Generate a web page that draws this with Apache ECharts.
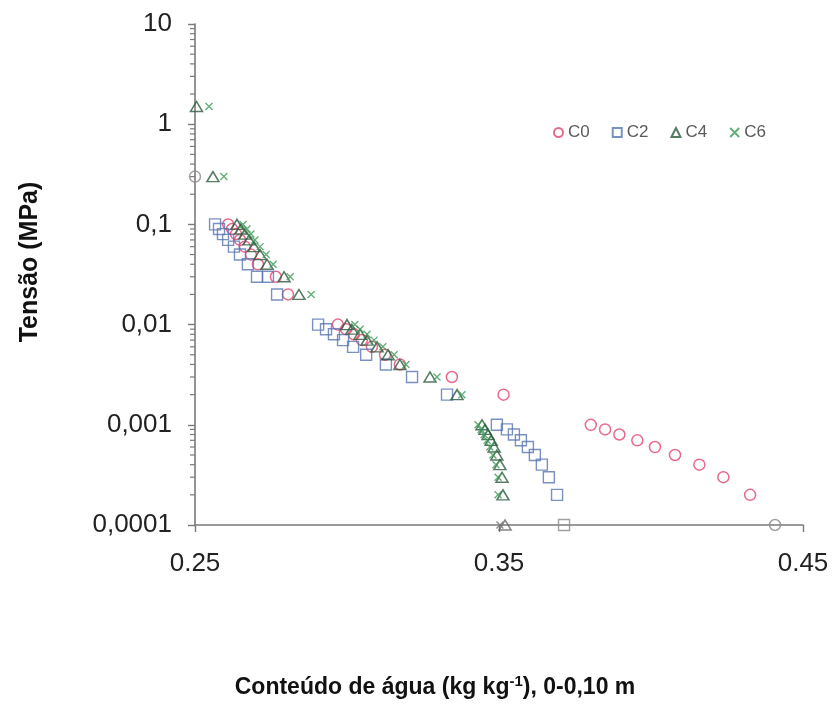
<!DOCTYPE html>
<html>
<head>
<meta charset="utf-8">
<script src="https://cdn.jsdelivr.net/npm/echarts@6/dist/echarts.min.js"></script>
<style>html,body{margin:0;padding:0;background:#fff}#c{width:836px;height:711px}</style>
</head>
<body>
<div id="c"></div>
<script>
// ---- data ----
const seriesNames = ['C0', 'C2', 'C4', 'C6'];
const yTickLabels = ['0,0001', '0,001', '0,01', '0,1', '1', '10'];
const xTickLabels = ['0.25', '0.35', '0.45'];

const c0Tension = [0.3, 0.1, 0.09, 0.08, 0.07, 0.06, 0.05, 0.04, 0.03, 0.02,
  0.01, 0.009, 0.008, 0.007, 0.006, 0.005, 0.004, 0.003, 0.002,
  0.001, 0.0009, 0.0008, 0.0007, 0.0006, 0.0005, 0.0004, 0.0003, 0.0002, 0.0001];
const c0Water = [0.250, 0.2609, 0.2622, 0.2635, 0.2648, 0.2664, 0.2684, 0.2707, 0.2766, 0.2806,
  0.2970, 0.2997, 0.3023, 0.3049, 0.3082, 0.3125, 0.3174, 0.3345, 0.3515,
  0.3802, 0.3849, 0.3896, 0.3955, 0.4013, 0.4079, 0.4159, 0.4238, 0.4326, 0.4408];

const c2Tension = [0.1, 0.09, 0.08, 0.07, 0.06, 0.05, 0.04, 0.03, 0.03, 0.02,
  0.01, 0.009, 0.008, 0.007, 0.006, 0.005, 0.004, 0.003, 0.002,
  0.001, 0.0009, 0.0008, 0.0007, 0.0006, 0.0005, 0.0004, 0.0003, 0.0002, 0.0001];
const c2Water = [0.2566, 0.2579, 0.2592, 0.2609, 0.2628, 0.2648, 0.2674, 0.2704, 0.2740, 0.2770,
  0.2905, 0.2931, 0.2957, 0.2987, 0.3020, 0.3063, 0.3128, 0.3214, 0.3329,
  0.3493, 0.3526, 0.3549, 0.3572, 0.3595, 0.3618, 0.3641, 0.3664, 0.3691, 0.3714];

const c4Tension = [1.5, 0.3, 0.1, 0.09, 0.08, 0.07, 0.06, 0.05, 0.04, 0.03, 0.02,
  0.01, 0.009, 0.008, 0.007, 0.006, 0.005, 0.004, 0.003, 0.002,
  0.001, 0.0009, 0.0008, 0.0007, 0.0006, 0.0005, 0.0004, 0.0003, 0.0002, 0.0001];
const c4Water = [0.2505, 0.2559, 0.2638, 0.2651, 0.2664, 0.2678, 0.2694, 0.2714, 0.2737, 0.2793, 0.2842,
  0.3000, 0.3016, 0.3043, 0.3066, 0.3099, 0.3135, 0.3174, 0.3273, 0.3362,
  0.3444, 0.3454, 0.3464, 0.3474, 0.3484, 0.3493, 0.3503, 0.3510, 0.3513, 0.3520];

const c6Tension = [1.5, 0.3, 0.1, 0.09, 0.08, 0.07, 0.06, 0.05, 0.04, 0.03, 0.02,
  0.01, 0.009, 0.008, 0.007, 0.006, 0.005, 0.004, 0.003, 0.002,
  0.001, 0.0009, 0.0008, 0.0007, 0.0006, 0.0005, 0.0004, 0.0003, 0.0002, 0.0001];
const c6Water = [0.2546, 0.2595, 0.2658, 0.2671, 0.2684, 0.2697, 0.2714, 0.2734, 0.2757, 0.2813, 0.2882,
  0.3026, 0.3043, 0.3066, 0.3089, 0.3118, 0.3155, 0.3194, 0.3296, 0.3378,
  0.3431, 0.3441, 0.3451, 0.3461, 0.3470, 0.3480, 0.3490, 0.3497, 0.3497, 0.3503];

const minorMultipliers = [2, 3, 4, 5, 6, 7, 8, 9];
const minorDecades = [0.0001, 0.001, 0.01, 0.1, 1];

// ---- build ----
const GREY = '#8a8a8a';
function pts(xs, ys, endColor) {
  return xs.map((x, i) => {
    const item = { value: [x, ys[i]] };
    if (endColor && (ys[i] <= 0.0001 || (ys[i] >= 0.3 && endColor.top))) {
      item.itemStyle = { borderColor: endColor.c };
    }
    return item;
  });
}
const minorTicks = [];
minorDecades.forEach(d => minorMultipliers.forEach(m => minorTicks.push([0.25, d * m])));

const hollow = (c, w) => ({ color: 'transparent', borderColor: c, borderWidth: w || 1.4 });

const chart = echarts.init(document.getElementById('c'), null, { renderer: 'canvas' });
chart.setOption({
  animation: false,
  backgroundColor: '#fff',
  grid: { left: 195, right: 33, top: 24, bottom: 186 },
  legend: {
    data: seriesNames,
    left: 548, top: 119,
    itemWidth: 9, itemHeight: 9, itemGap: 22,
    textStyle: { fontSize: 17, color: '#5a5a5a', fontFamily: 'Liberation Sans, Arial' }
  },
  xAxis: {
    type: 'value', min: 0.25, max: 0.45, interval: 0.1,
    axisLine: { lineStyle: { color: '#7a7a7a', width: 1.6 } },
    axisTick: { show: true, length: 7, lineStyle: { color: '#7a7a7a', width: 1.4 } },
    splitLine: { show: false },
    axisLabel: {
      fontSize: 26, color: '#222', margin: 26, fontFamily: 'Liberation Sans, Arial',
      formatter: v => xTickLabels[Math.round((v - 0.25) / 0.1)]
    }
  },
  yAxis: {
    type: 'log', logBase: 10, min: 0.0001, max: 10,
    axisLine: { show: true, lineStyle: { color: '#7a7a7a', width: 1.6 } },
    axisTick: { show: true, length: 7, lineStyle: { color: '#7a7a7a', width: 1.4 } },
    splitLine: { show: false },
    axisLabel: {
      fontSize: 26, color: '#222', margin: 23, fontFamily: 'Liberation Sans, Arial',
      formatter: v => yTickLabels[Math.round(Math.log10(v)) + 4]
    }
  },
  graphic: [
    {
      type: 'text', x: 30, y: 262, rotation: Math.PI / 2,
      style: {
        text: 'Tensão (MPa)', fontSize: 25, fontWeight: 'bold', fill: '#111',
        fontFamily: 'Liberation Sans, Arial', align: 'center', verticalAlign: 'middle'
      }
    },
    {
      type: 'text', x: 435, y: 688,
      style: {
        text: 'Conteúdo de água (kg kg{sup|-1}), 0-0,10 m',
        fontSize: 23, fontWeight: 'bold', fill: '#111', fontFamily: 'Liberation Sans, Arial',
        align: 'center', verticalAlign: 'middle',
        rich: { sup: { fontSize: 15, fontWeight: 'bold', fill: '#111', verticalAlign: 'top', padding: [0, 0, 12, 0] } }
      }
    }
  ],
  series: [
    {
      name: 'C0', type: 'scatter', symbol: 'circle', symbolSize: 11, z: 3,
      itemStyle: hollow('#e2456e', 1.5),
      data: pts(c0Water, c0Tension, { c: GREY, top: true })
    },
    {
      name: 'C2', type: 'scatter', symbol: 'rect', symbolSize: 11, z: 4,
      itemStyle: hollow('#5876b2', 1.4),
      data: pts(c2Water, c2Tension, { c: GREY, top: false })
    },
    {
      name: 'C4', type: 'scatter', symbol: 'triangle', symbolSize: [12, 10], z: 5,
      itemStyle: hollow('#2a5a3c', 1.5),
      data: pts(c4Water, c4Tension, { c: '#666', top: false })
    },
    {
      name: 'C6', type: 'scatter', symbol: 'path://M0,0L10,10M10,0L0,10', symbolSize: 7, z: 6,
      itemStyle: hollow('#3f9a58', 1.4),
      data: pts(c6Water, c6Tension, { c: '#777', top: false })
    },
    {
      type: 'custom', silent: true, z: 2, clip: false,
      data: minorTicks,
      renderItem: (params, api) => {
        const p = api.coord([api.value(0), api.value(1)]);
        return {
          type: 'line',
          shape: { x1: p[0] - 5, y1: p[1], x2: p[0], y2: p[1] },
          style: { stroke: '#7a7a7a', lineWidth: 1.2 }
        };
      }
    }
  ]
});
</script>
</body>
</html>
